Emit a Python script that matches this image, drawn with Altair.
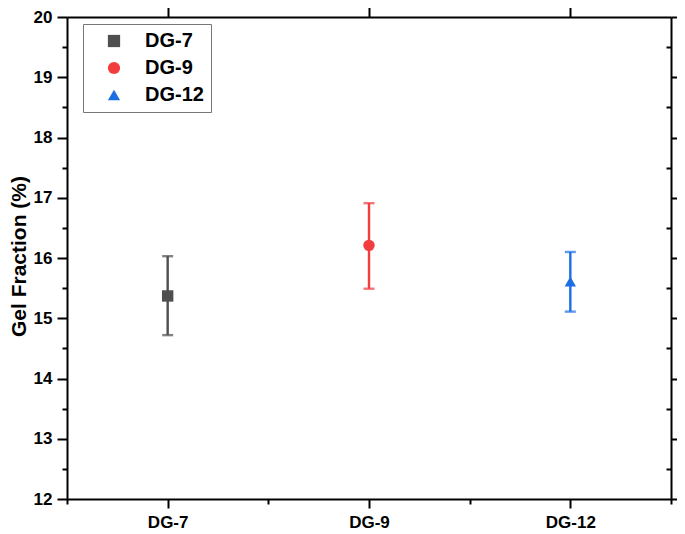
import altair as alt
import pandas as pd

samples = ["DG-7", "DG-9", "DG-12"]
positions = [1, 2, 3]
means = [15.37, 16.21, 15.61]
lower = [14.72, 15.49, 15.11]
upper = [16.03, 16.91, 16.10]
colors = ["#4f4f4f", "#f23c3e", "#1c6fe3"]
shapes = ["square", "circle", "triangle-up"]

y_major = list(range(12, 21))
y_minor = [v + 0.5 for v in range(12, 20)]
x_major = positions
x_minor = [0.5, 1.5, 2.5, 3.5]

df = pd.DataFrame({"sample": samples, "pos": positions, "mean": means,
                   "lo": lower, "hi": upper})

label_expr = " : ".join(f"datum.value == {p} ? '{s}'" for p, s in zip(positions, samples)) + " : ''"

FONT = "Liberation Sans"
W, H = 604, 482
xscale = alt.Scale(domain=[0.5, 3.5], nice=False, zero=False)
yscale = alt.Scale(domain=[12, 20], nice=False, zero=False)

legend_cfg = dict(title=None, orient="none", legendX=16, legendY=7,
                  strokeColor="#777", padding=7, symbolOffset=14,
                  labelFont=FONT, labelFontSize=20, labelFontWeight="bold",
                  labelColor="black", labelOffset=21, rowPadding=7,
                  symbolSize=150, symbolStrokeWidth=0, symbolOpacity=1)
color = alt.Color("sample:N", scale=alt.Scale(domain=samples, range=colors),
                  legend=alt.Legend(**legend_cfg))
shape = alt.Shape("sample:N", scale=alt.Scale(domain=samples, range=shapes),
                  legend=alt.Legend(**legend_cfg))

common_axis = dict(grid=False, domainColor="black", tickColor="black", domainWidth=2,
                   tickWidth=2, labelFont=FONT, labelFontWeight="bold", labelColor="black")

base = alt.Chart(df)

bars = base.mark_rule(strokeWidth=2.4).encode(
    x=alt.X("pos:Q", scale=xscale,
            axis=alt.Axis(orient="bottom", values=x_major, labelExpr=label_expr,
                          tickSize=9, labelFontSize=17, labelPadding=6, title=None,
                          **common_axis)),
    y=alt.Y("lo:Q", scale=yscale,
            axis=alt.Axis(orient="left", values=y_major, format="d", tickSize=10,
                          labelFontSize=17, labelPadding=5, title="Gel Fraction (%)",
                          titleFont=FONT, titleFontSize=21, titleFontWeight="bold",
                          titleColor="black", titleAngle=270, titleBaseline="middle",
                          titleAlign="center", titleX=-48, titleY=H / 2 - 2,
                          **common_axis)),
    y2="hi:Q",
    color=color,
)

caps_lo = base.mark_tick(orient="horizontal", size=11, thickness=2.4).encode(
    x=alt.X("pos:Q", scale=xscale,
            axis=alt.Axis(orient="bottom", values=x_minor, labels=False, tickSize=5,
                          domain=False, title=None, **common_axis)),
    y=alt.Y("lo:Q", scale=yscale,
            axis=alt.Axis(orient="left", values=y_minor, labels=False, tickSize=5,
                          domain=False, title=None, **common_axis)),
    color=color,
)

caps_hi = base.mark_tick(orient="horizontal", size=11, thickness=2.4).encode(
    x=alt.X("pos:Q", scale=xscale,
            axis=alt.Axis(orient="top", values=x_major, labels=False, tickSize=10,
                          title=None, **common_axis)),
    y=alt.Y("hi:Q", scale=yscale,
            axis=alt.Axis(orient="right", values=y_major, labels=False, tickSize=10,
                          title=None, **common_axis)),
    color=color,
)

points = base.mark_point(filled=True, size=130, opacity=1).encode(
    x=alt.X("pos:Q", scale=xscale, axis=None),
    y=alt.Y("mean:Q", scale=yscale,
            axis=alt.Axis(orient="left", offset=-W, values=y_minor, labels=False,
                          tickSize=5, domain=False, title=None, **common_axis)),
    color=color,
    shape=shape,
)

chart = alt.layer(bars, caps_lo, caps_hi, points).resolve_axis(
    x="independent", y="independent"
).properties(
    width=W, height=H,
    autosize=alt.AutoSizeParams(type="none"),
    padding={"left": 59, "top": 9, "right": 6, "bottom": 34},
).configure_view(stroke=None)

chart.save("out.html", embed_options={"renderer": "svg", "actions": False})
